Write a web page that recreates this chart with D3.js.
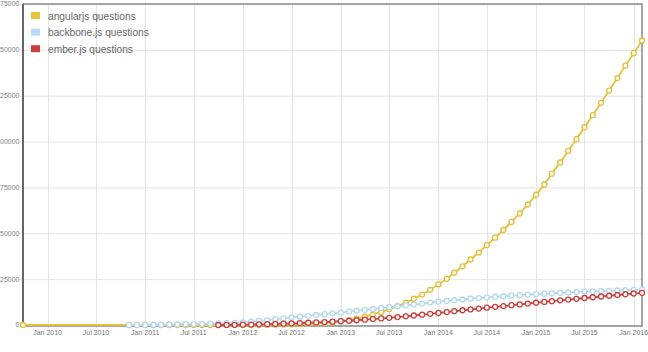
<!DOCTYPE html>
<html>
<head>
<meta charset="utf-8">
<script src="https://cdn.jsdelivr.net/npm/d3@7"></script>
<style>
    body { margin: 0; background: #fff; }
    svg { display: block; font-family: "Liberation Sans", Arial, sans-serif; }
</style>
</head>
<body>
<script>
//cumulative question counts, one value per month

//series labels for the legend
var seriesNames = ["angularjs questions", "backbone.js questions", "ember.js questions"];

//first month of each monthly run
var angularStart = "2010-11";
var backboneStart = "2010-11";
var emberStart = "2011-10";

//angularjs has one lone point before its monthly run
var angularFirstMonth = "2009-10";
var angularFirstValue = 0;

var angularValues = [0, 0, 0, 0, 0, 2, 3, 4, 5, 6, 8,
    10, 15, 25, 35, 50, 75, 110, 160, 230, 320, 450, 620,
    850, 1150, 1550, 2050, 2700, 3500, 4500, 5700, 7100, 8600, 10300, 12200,
    14300, 16600, 19200, 22100, 25200, 28500, 32000, 35700, 39500, 43500, 47600, 51800,
    56200, 60800, 65700, 71000, 76600, 82500, 88600, 94900, 101300, 107800, 114400, 121100,
    127800, 134600, 141400, 148200, 155100];

var backboneValues = [20, 50, 90, 140, 200, 270, 340, 420, 500, 600, 720,
    860, 1020, 1200, 1400, 1800, 2250, 2700, 3150, 3600, 4100, 4550, 5000,
    5450, 5900, 6350, 6800, 7280, 7760, 8240, 8720, 9200, 9700, 10200, 10700,
    11200, 11700, 12200, 12700, 13100, 13500, 13900, 14300, 14700, 15100, 15400, 15680,
    15960, 16240, 16520, 16800, 17030, 17260, 17490, 17720, 17950, 18200, 18350, 18500,
    18650, 18800, 18950, 19100, 19300];

var emberValues = [0, 30, 80, 150, 240, 350, 470, 600, 740, 890, 1050, 1220,
    1400, 1600, 1820, 2060, 2320, 2600, 2900, 3220, 3560, 3920, 4320, 4740,
    5180, 5640, 6110, 6590, 7070, 7550, 8030, 8500, 8970, 9430, 9890, 10340,
    10790, 11240, 11690, 12130, 12570, 13010, 13440, 13870, 14290, 14710, 15130, 15540,
    15950, 16360, 16760, 17160, 17560];

//axis ends and ticks
var xStartMonth = "2009-10";
var xEndMonth = "2016-02";
var yTicks = [0, 25000, 50000, 75000, 100000, 125000, 150000, 175000];

//colours
var lineColors = ["#e3bf3c", "#b4d8f0", "#c8403f"];
var swatchColors = ["#e8c33c", "#b9dcf4", "#cb3f43"];

window.onload = drawChart();

function drawChart(){

    var width = 648;
    var height = 352;
    var plot = {left: 23, top: 4, right: 642, bottom: 325};

    var parseMonth = d3.timeParse("%Y-%m");

    //turn a start month plus values into dated points
    function monthly(start, values){
        var first = parseMonth(start);
        return values.map(function(v, i){
            return {date: d3.timeMonth.offset(first, i), value: v};
        });
    }

    var angular = [{date: parseMonth(angularFirstMonth), value: angularFirstValue}]
        .concat(monthly(angularStart, angularValues));
    var series = [angular, monthly(backboneStart, backboneValues), monthly(emberStart, emberValues)];

    var svg = d3.select("body")
        .append("svg")
        .attr("width", width)
        .attr("height", height);

    var x = d3.scaleTime()
        .domain([parseMonth(xStartMonth), parseMonth(xEndMonth)])
        .range([plot.left, plot.right]);

    var y = d3.scaleLinear()
        .domain([0, 175000])
        .range([plot.bottom, plot.top]);

    var xTicks = x.ticks(d3.timeMonth.every(6));

    //gridlines
    svg.append("g")
        .selectAll("line")
        .data(yTicks)
        .enter()
        .append("line")
        .attr("x1", plot.left - 3)
        .attr("x2", plot.right)
        .attr("y1", function(d){ return y(d) + 0.5; })
        .attr("y2", function(d){ return y(d) + 0.5; })
        .style("stroke", "#e4e4e4")
        .style("stroke-width", "1px");

    svg.append("g")
        .selectAll("line")
        .data(xTicks)
        .enter()
        .append("line")
        .attr("x1", function(d){ return Math.round(x(d)) + 0.5; })
        .attr("x2", function(d){ return Math.round(x(d)) + 0.5; })
        .attr("y1", plot.top)
        .attr("y2", plot.bottom + 3)
        .style("stroke", "#e4e4e4")
        .style("stroke-width", "1px");

    //frame
    svg.append("rect")
        .attr("x", plot.left)
        .attr("y", plot.top)
        .attr("width", plot.right - plot.left)
        .attr("height", plot.bottom - plot.top + 1)
        .style("fill", "none")
        .style("stroke", "#8a8a8a")
        .style("stroke-width", "1.5px");

    svg.append("line")
        .attr("x1", plot.left)
        .attr("x2", plot.left)
        .attr("y1", plot.top)
        .attr("y2", plot.bottom + 1)
        .style("stroke", "#666")
        .style("stroke-width", "2px");

    //y labels
    svg.append("g")
        .selectAll("text")
        .data(yTicks)
        .enter()
        .append("text")
        .attr("x", 19.5)
        .attr("y", function(d){ return y(d); })
        .attr("dy", "0.35em")
        .attr("text-anchor", "end")
        .style("font-size", "7px")
        .style("fill", "#808080")
        .text(d3.format("d"));

    //x labels
    svg.append("g")
        .selectAll("text")
        .data(xTicks)
        .enter()
        .append("text")
        .attr("x", function(d){ return x(d); })
        .attr("y", 335)
        .attr("text-anchor", "middle")
        .style("font-size", "7px")
        .style("fill", "#777")
        .text(d3.timeFormat("%b %Y"));

    //lines and markers
    var line = d3.line()
        .x(function(d){ return x(d.date); })
        .y(function(d){ return y(d.value); });

    series.forEach(function(data, i){
        svg.append("path")
            .datum(data)
            .attr("d", line)
            .style("fill", "none")
            .style("stroke", lineColors[i])
            .style("stroke-width", "1.8px");

        svg.append("g")
            .selectAll("circle")
            .data(data)
            .enter()
            .append("circle")
            .attr("cx", function(d){ return x(d.date); })
            .attr("cy", function(d){ return y(d.value); })
            .attr("r", 2.5)
            .style("fill", "#fdfdf6")
            .style("stroke", lineColors[i])
            .style("stroke-width", "1.3px");
    });

    //legend
    var legend = svg.append("g")
        .selectAll("g")
        .data(seriesNames)
        .enter()
        .append("g")
        .attr("transform", function(d, i){ return "translate(31," + (12 + i * 16.6) + ")"; });

    legend.append("rect")
        .attr("width", 9)
        .attr("height", 7)
        .style("fill", function(d, i){ return swatchColors[i]; });

    legend.append("text")
        .attr("x", 17)
        .attr("y", 4)
        .attr("dy", "0.35em")
        .style("font-size", "10.2px")
        .style("fill", "#666")
        .text(function(d){ return d; });
};
</script>
</body>
</html>
